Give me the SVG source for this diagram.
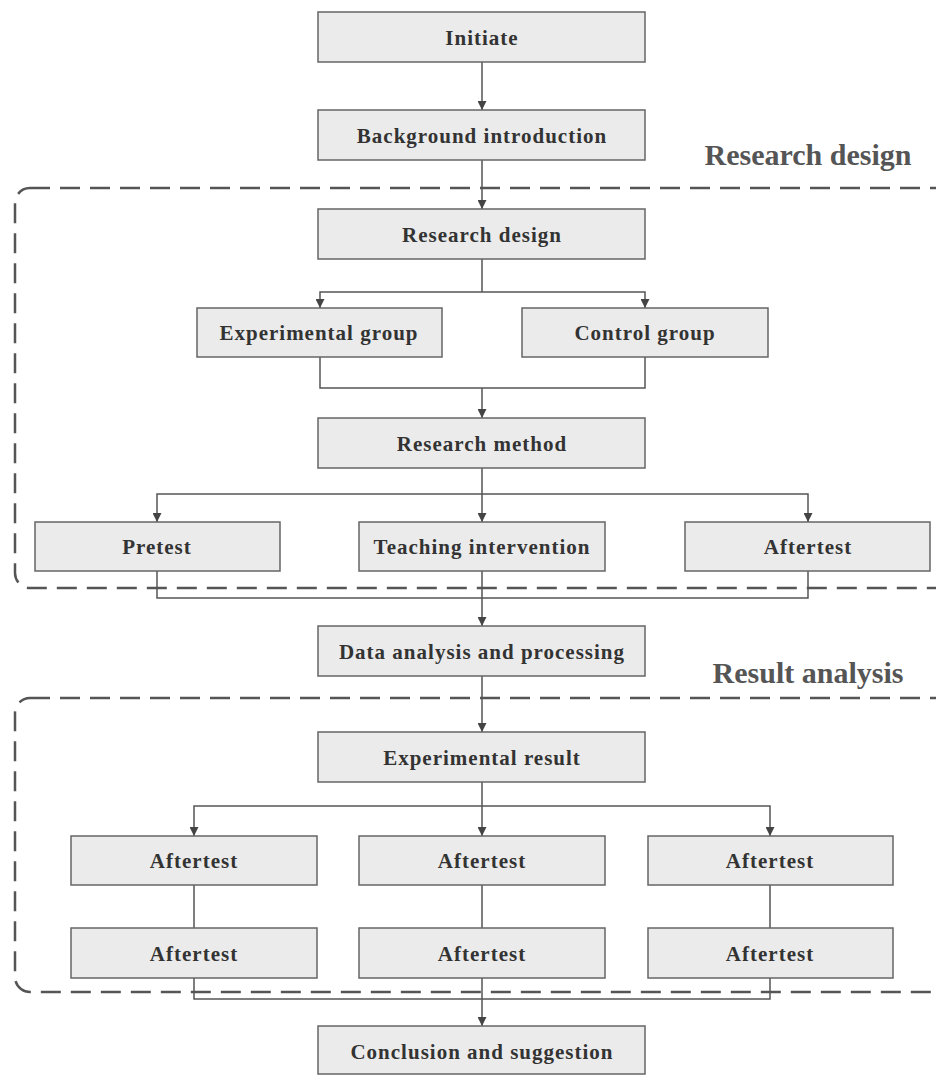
<svg xmlns="http://www.w3.org/2000/svg" width="936" height="1075" viewBox="0 0 936 1075">
<defs>
<marker id="ah" viewBox="0 0 10 10" refX="10" refY="5" markerWidth="9" markerHeight="9" markerUnits="userSpaceOnUse" orient="auto">
<path d="M0,0 L10,5 L0,10 Z" fill="#444"/>
</marker>
<style>
.box{fill:#ebebeb;stroke:#666;stroke-width:1.5}
.t{font-family:"Liberation Serif","Times New Roman",serif;font-weight:bold;font-size:21px;letter-spacing:1px;fill:#333;text-anchor:middle}
.lbl{font-family:"Liberation Serif","Times New Roman",serif;font-weight:bold;font-size:30px;fill:#555;text-anchor:middle}
.c{fill:none;stroke:#555;stroke-width:1.5}
.dash{fill:none;stroke:#555;stroke-width:2.5;stroke-dasharray:20 10}
</style>
</defs>
<rect width="936" height="1075" fill="#fff"/>
<g id="regions">
<rect class="dash" x="15" y="188" width="1000" height="400" rx="15"/>
<rect class="dash" x="15" y="698" width="1000" height="294" rx="15"/>
<text class="lbl" x="808" y="165">Research design</text>
<text class="lbl" x="808" y="683">Result analysis</text>
</g>
<g id="connectors">
<path class="c" d="M482,62 V110" marker-end="url(#ah)"/>
<path class="c" d="M482,160 V209" marker-end="url(#ah)"/>
<path class="c" d="M482,259 V292"/>
<path class="c" d="M482,292 H320 V308" marker-end="url(#ah)"/>
<path class="c" d="M482,292 H645 V308" marker-end="url(#ah)"/>
<path class="c" d="M320,357 V388 H645 V357"/>
<path class="c" d="M482,388 V418" marker-end="url(#ah)"/>
<path class="c" d="M482,468 V494"/>
<path class="c" d="M482,494 H157 V522" marker-end="url(#ah)"/>
<path class="c" d="M482,494 V522" marker-end="url(#ah)"/>
<path class="c" d="M482,494 H808 V522" marker-end="url(#ah)"/>
<path class="c" d="M157,571 V598 H808 V571"/>
<path class="c" d="M482,571 V626" marker-end="url(#ah)"/>
<path class="c" d="M482,676 V732" marker-end="url(#ah)"/>
<path class="c" d="M482,782 V806"/>
<path class="c" d="M482,806 H194 V836" marker-end="url(#ah)"/>
<path class="c" d="M482,806 V836" marker-end="url(#ah)"/>
<path class="c" d="M482,806 H770 V836" marker-end="url(#ah)"/>
<path class="c" d="M194,885 V928"/>
<path class="c" d="M482,885 V928"/>
<path class="c" d="M770,885 V928"/>
<path class="c" d="M194,978 V999 H770 V978"/>
<path class="c" d="M482,978 V1026" marker-end="url(#ah)"/>
</g>
<g id="n-initiate"><rect class="box" x="318" y="12" width="327" height="50"/><text class="t" x="482" y="45">Initiate</text></g>
<g id="n-background"><rect class="box" x="318" y="110" width="327" height="50"/><text class="t" x="482" y="143">Background introduction</text></g>
<g id="n-research-design"><rect class="box" x="318" y="209" width="327" height="50"/><text class="t" x="482" y="242">Research design</text></g>
<g id="n-experimental-group"><rect class="box" x="197" y="308" width="245" height="49"/><text class="t" x="319" y="340">Experimental group</text></g>
<g id="n-control-group"><rect class="box" x="522" y="308" width="246" height="49"/><text class="t" x="645" y="340">Control group</text></g>
<g id="n-research-method"><rect class="box" x="318" y="418" width="327" height="50"/><text class="t" x="482" y="451">Research method</text></g>
<g id="n-pretest"><rect class="box" x="35" y="522" width="245" height="49"/><text class="t" x="157" y="554">Pretest</text></g>
<g id="n-teaching"><rect class="box" x="359" y="522" width="246" height="49"/><text class="t" x="482" y="554">Teaching intervention</text></g>
<g id="n-aftertest-0"><rect class="box" x="685" y="522" width="245" height="49"/><text class="t" x="808" y="554">Aftertest</text></g>
<g id="n-data"><rect class="box" x="318" y="626" width="327" height="50"/><text class="t" x="482" y="659">Data analysis and processing</text></g>
<g id="n-exp-result"><rect class="box" x="318" y="732" width="327" height="50"/><text class="t" x="482" y="765">Experimental result</text></g>
<g id="n-at-1"><rect class="box" x="71" y="836" width="246" height="49"/><text class="t" x="194" y="868">Aftertest</text></g>
<g id="n-at-2"><rect class="box" x="359" y="836" width="246" height="49"/><text class="t" x="482" y="868">Aftertest</text></g>
<g id="n-at-3"><rect class="box" x="648" y="836" width="245" height="49"/><text class="t" x="770" y="868">Aftertest</text></g>
<g id="n-at-4"><rect class="box" x="71" y="928" width="246" height="50"/><text class="t" x="194" y="961">Aftertest</text></g>
<g id="n-at-5"><rect class="box" x="359" y="928" width="246" height="50"/><text class="t" x="482" y="961">Aftertest</text></g>
<g id="n-at-6"><rect class="box" x="648" y="928" width="245" height="50"/><text class="t" x="770" y="961">Aftertest</text></g>
<g id="n-conclusion"><rect class="box" x="318" y="1026" width="327" height="48"/><text class="t" x="482" y="1059">Conclusion and suggestion</text></g>
</svg>
